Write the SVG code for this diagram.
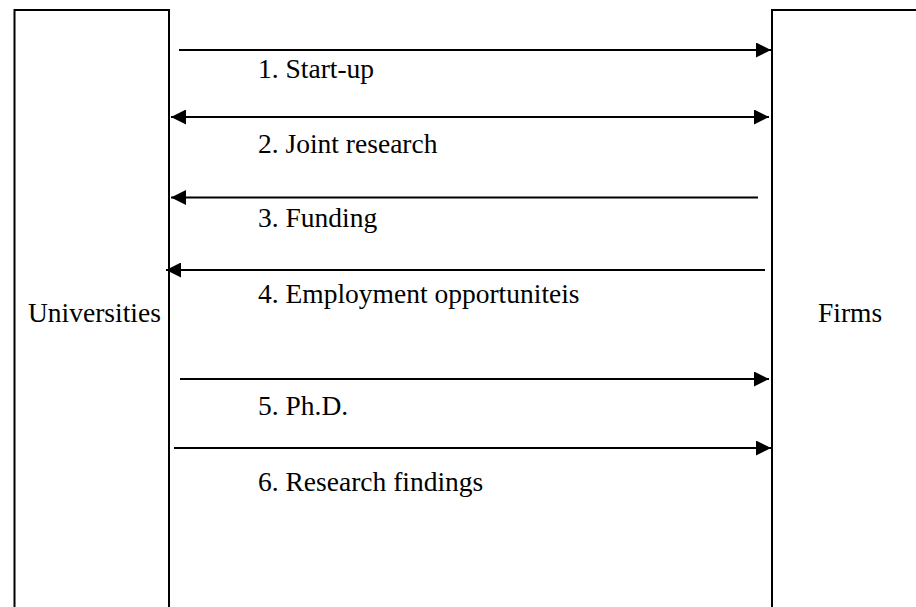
<svg xmlns="http://www.w3.org/2000/svg" width="916" height="607" viewBox="0 0 916 607">
  <style>
    .box { fill: #ffffff; stroke: #000000; stroke-width: 2; }
    .conn { stroke: #000000; stroke-width: 2; fill: none; }
    text { font-family: "Times New Roman", "Liberation Serif", "DejaVu Serif", serif; font-size: 27.5px; fill: #000000; }
  </style>
  <defs>
    <marker id="ah" viewBox="0 0 15 15" refX="15" refY="7.5" markerWidth="15" markerHeight="15" markerUnits="userSpaceOnUse" orient="auto-start-reverse">
      <path d="M0,0 L15,7.5 L0,15 z" fill="#000000"/>
    </marker>
  </defs>
  <rect width="916" height="607" fill="#ffffff"/>
  <g id="universities">
    <rect class="box" x="14.5" y="10" width="154.5" height="620"/>
    <text x="28" y="322">Universities</text>
  </g>
  <g id="firms">
    <rect class="box" x="772" y="10" width="160" height="620"/>
    <text x="818" y="322">Firms</text>
  </g>
  <g id="connectors">
    <line class="conn" x1="179" y1="50" x2="771" y2="50" marker-end="url(#ah)"/>
    <line class="conn" x1="171" y1="117" x2="769" y2="117" marker-start="url(#ah)" marker-end="url(#ah)"/>
    <line class="conn" x1="758" y1="197.5" x2="171" y2="197.5" marker-end="url(#ah)"/>
    <line class="conn" x1="765" y1="270" x2="166" y2="270" marker-end="url(#ah)"/>
    <line class="conn" x1="180" y1="379" x2="769" y2="379" marker-end="url(#ah)"/>
    <line class="conn" x1="174" y1="448" x2="771" y2="448" marker-end="url(#ah)"/>
  </g>
  <g id="labels">
    <text x="258" y="78">1. Start-up</text>
    <text x="258" y="153">2. Joint research</text>
    <text x="258" y="227">3. Funding</text>
    <text x="258" y="303">4. Employment opportuniteis</text>
    <text x="258" y="415">5. Ph.D.</text>
    <text x="258" y="491">6. Research findings</text>
  </g>
</svg>
